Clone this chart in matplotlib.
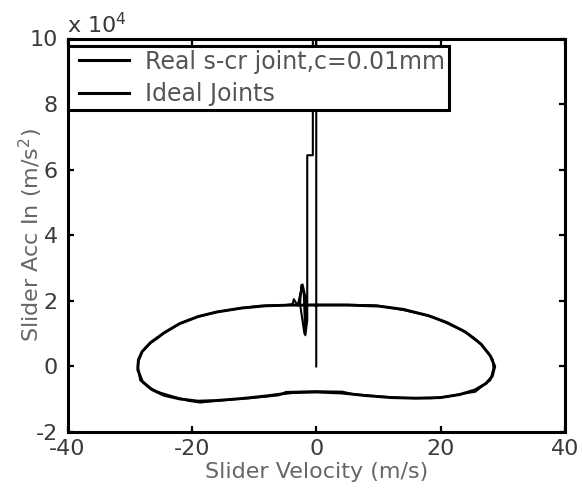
import matplotlib
matplotlib.use("Agg")
import matplotlib.pyplot as plt
from matplotlib.lines import Line2D
from matplotlib.legend_handler import HandlerLine2D

plt.rcParams['font.family'] = ['DejaVu Sans']
plt.rcParams['axes.unicode_minus'] = False

# ---- data (acceleration in units of 1e4 m/s^2) ----
vel_real = [0.0, 0.0, -0.55, -0.55, -1.45, -1.45, -1.75, -2.0, -2.4, -2.6, -1.9, -1.6,
            -2.2, -3.0, -3.6, -3.8, -5.0, -9.0, -12.0, -16.0, -19.0, -21.9, -24.5,
            -25.6, -26.7, -28.0, -28.6, -28.7, -28.3, -27.2, -25.6, -23.0, -20.5,
            -18.7, -16.0, -13.0, -10.7, -6.0, -4.9, -2.7, 0.0, 4.2, 6.0, 10.6, 14.0,
            18.6, 21.0, 24.0, 25.6, 27.0, 28.0, 28.5, 28.4, 27.7, 26.6, 25.5, 23.4,
            21.0, 18.6, 14.0, 9.6, 5.0, 0.0, -1.0]
acc_real = [0.0, 10.5, 10.5, 6.44, 6.44, 1.41, 0.95, 2.2, 2.48, 1.9, 1.0, 2.0,
            2.5, 1.85, 2.05, 1.9, 1.87, 1.85, 1.78, 1.66, 1.52, 1.32, 1.02,
            0.85, 0.71, 0.45, 0.15, 0.0, -0.42, -0.6, -0.77, -0.92, -1.05,
            -1.1, -1.05, -1.0, -0.97, -0.88, -0.78, -0.77, -0.76, -0.77, -0.85, -0.92, -0.96,
            -0.97, -0.92, -0.82, -0.77, -0.55, -0.42, -0.06, 0.2, 0.4, 0.66, 0.85, 1.11,
            1.32, 1.52, 1.72, 1.86, 1.88, 1.88, 1.88]

vel_ideal = [0, 5, 10, 14, 18, 21, 24, 26.5, 28, 28.7, 28.3, 27.3, 25.5, 23, 20, 16,
             12, 8, 4, 0, -4, -8, -12, -16, -19, -22, -24.5, -26.5, -28, -28.7,
             -28.6, -28, -26.7, -24.5, -22, -19, -16, -12, -8, -4, 0]
acc_ideal = [1.87, 1.87, 1.84, 1.74, 1.55, 1.34, 1.05, 0.68, 0.32, 0.0, -0.3, -0.52,
             -0.72, -0.86, -0.95, -0.97, -0.95, -0.89, -0.81, -0.78, -0.80, -0.9,
             -0.98, -1.04, -1.06, -0.99, -0.88, -0.7, -0.45, -0.1, 0.2, 0.45, 0.72,
             1.02, 1.3, 1.52, 1.66, 1.78, 1.85, 1.87, 1.87]

labels = ['Real s-cr joint,c=0.01mm', 'Ideal Joints']
xticks = [-40, -20, 0, 20, 40]
yticks = [-2, 0, 2, 4, 6, 8, 10]

W, H = 582, 488
FS = 16
LFS = 17
fig = plt.figure(figsize=(W / 100, H / 100), dpi=100)
ax = fig.add_axes([67.5 / W, 1 - 432 / H, (565 - 67.5) / W, (432 - 38.5) / H])

ax.plot(vel_real, acc_real, color='black', lw=1.5, label=labels[0])
ax.plot(vel_ideal, acc_ideal, color='black', lw=2.1, label=labels[1])

ax.set_xlim(-40, 40)
ax.set_ylim(-2, 10)
ax.set_xticks(xticks)
ax.set_yticks(yticks)
ax.set_xticklabels([str(t) for t in xticks])
ax.set_yticklabels([str(t) for t in yticks])

for s in ax.spines.values():
    s.set_linewidth(2.2)
ax.tick_params(direction='in', length=4, width=1.6, top=True, right=True,
               labelsize=FS, labelcolor='#3a3a3a')
ax.tick_params(axis='x', pad=5)
ax.tick_params(axis='y', pad=7)

ax.set_xlabel('Slider Velocity (m/s)', fontsize=FS, color='#666666')
ax.set_ylabel('Slider Acc In (m/s$^2$)', fontsize=FS, color='#666666')
ax.xaxis.set_label_coords(0.5, -0.075)
ax.yaxis.set_label_coords(-0.046, 0.5)

fig.text(67 / W, 1 - 33 / H, r'x 10$^4$', fontsize=FS, color='#3a3a3a',
         ha='left', va='baseline')

fpx = LFS * 100 / 72.0
leg = ax.legend(loc='upper left', bbox_to_anchor=(0.0, 1 - 7.5 / 393.5),
                borderaxespad=0.0, fontsize=LFS, frameon=True, fancybox=False,
                edgecolor='black', framealpha=1.0, borderpad=0.15,
                handlelength=58 / fpx, handletextpad=16 / fpx, labelspacing=0.36,
                handler_map={Line2D: HandlerLine2D(xpad=8 / fpx)})
leg.get_frame().set_linewidth(2.2)
for t in leg.get_texts():
    t.set_color('#555555')
for l in leg.get_lines():
    l.set_linewidth(2.2)

fig.savefig('out.png', dpi=100, facecolor='white')
